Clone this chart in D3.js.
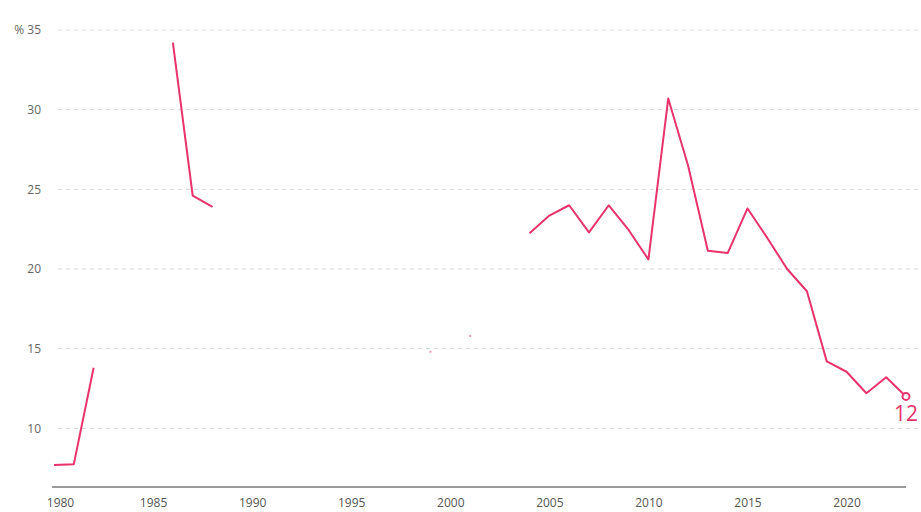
<!DOCTYPE html>
<html>
<head>
<meta charset="utf-8">
<script src="https://cdn.jsdelivr.net/npm/d3@7"></script>
<style>
  html, body { margin: 0; padding: 0; background: #fff; }
  svg { display: block; font-family: "Open Sans", sans-serif; }
</style>
</head>
<body>
<svg id="chart" width="921" height="512"></svg>
<script>
const years = d3.range(1980, 2024);
const values = [
  7.7, 7.75, 13.8, null, null, null, 34.2, 24.6, 23.9, null,
  null, null, null, null, null, null, null, null, null, 14.8,
  null, 15.8, null, null, 22.25, 23.35, 24.0, 22.3, 24.0, 22.45,
  20.6, 30.7, 26.5, 21.15, 21.0, 23.8, 21.95, 20.0, 18.6, 14.2,
  13.55, 12.2, 13.2, 12.0
];
const yTicks = [10, 15, 20, 25, 30, 35];
const xTicks = [1980, 1985, 1990, 1995, 2000, 2005, 2010, 2015, 2020];
const endLabel = "12";

const data = years.map((yr, i) => ({ year: yr, value: values[i] }));

const svg = d3.select("#chart");
const color = "#e8336b";

const x = d3.scaleLinear().domain([1980, 2023]).range([54, 906]);
const y = d3.scaleLinear().domain([10, 35]).range([428.3, 30]);
const axisY = 487;

// gridlines
svg.append("g")
  .selectAll("line")
  .data(yTicks)
  .join("line")
  .attr("x1", 58).attr("x2", 921)
  .attr("y1", d => y(d)).attr("y2", d => y(d))
  .attr("stroke", "#d6d6d6")
  .attr("stroke-width", 1)
  .attr("stroke-dasharray", "4,4");

// y labels
svg.append("g")
  .selectAll("text")
  .data(yTicks)
  .join("text")
  .attr("x", 41)
  .attr("y", d => y(d))
  .attr("dy", "0.35em")
  .attr("text-anchor", "end")
  .attr("font-size", 12)
  .attr("fill", "#666")
  .text(d => d === 35 ? "% 35" : d);

// x axis
const xAxis = d3.axisBottom(x).tickValues(xTicks).tickSize(0).tickPadding(11).tickFormat(d3.format("d"));
const gx = svg.append("g").attr("transform", `translate(0,${axisY})`).call(xAxis);
gx.select(".domain").remove();
gx.append("line").attr("x1", 52).attr("x2", 906).attr("y1", 0).attr("y2", 0)
  .attr("stroke", "#9a9a9a").attr("stroke-width", 2);
gx.selectAll("text").attr("font-size", 12).attr("fill", "#555")
  .attr("font-family", "'Open Sans', sans-serif");
// first label nudged inward, as in the reference
gx.selectAll(".tick").filter(d => d === 1980).select("text").attr("dx", 6);

// line
const line = d3.line()
  .defined(d => d.value !== null)
  .x(d => x(d.year))
  .y(d => y(d.value));

svg.append("path")
  .datum(data)
  .attr("d", line)
  .attr("fill", "none")
  .attr("stroke", color)
  .attr("stroke-width", 2)
  .attr("stroke-linejoin", "round");

// isolated points (no neighbours)
const isolated = data.filter((d, i) => d.value !== null &&
  (i === 0 || data[i - 1].value === null) &&
  (i === data.length - 1 || data[i + 1].value === null));
svg.append("g").selectAll("circle")
  .data(isolated)
  .join("circle")
  .attr("cx", d => x(d.year))
  .attr("cy", d => y(d.value))
  .attr("r", 1.2)
  .attr("fill", color)
  .attr("opacity", 0.45);

// end marker
const last = data[data.length - 1];
svg.append("circle")
  .attr("cx", x(last.year))
  .attr("cy", y(last.value))
  .attr("r", 3.5)
  .attr("fill", "#fff")
  .attr("stroke", color)
  .attr("stroke-width", 2);

svg.append("text")
  .attr("x", x(last.year))
  .attr("y", y(last.value) + 25)
  .attr("text-anchor", "middle")
  .attr("font-size", 21)
  .attr("fill", color)
  .text(endLabel);
</script>
</body>
</html>
